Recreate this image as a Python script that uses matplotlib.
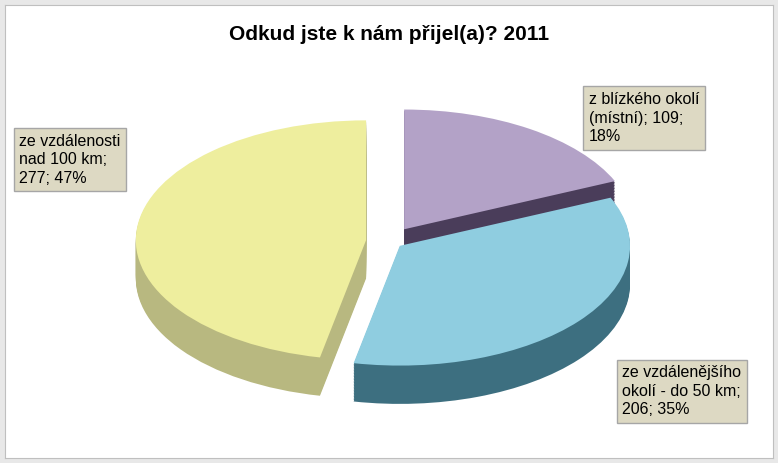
import matplotlib
matplotlib.use("Agg")
import matplotlib.pyplot as plt
import numpy as np

categories = ["z blízkého okolí\n(místní); 109;\n18%",
              "ze vzdálenějšího\nokolí - do 50 km;\n206; 35%",
              "ze vzdálenosti\nnad 100 km;\n277; 47%"]
values = [109, 206, 277]
top_colors = ["#b3a2c7", "#8fcde0", "#eeee9e"]
side_colors = ["#4a3d5a", "#3d6f80", "#b8b880"]
explode = [0.12, 0.06, 0.10]

fig = plt.figure(figsize=(7.78, 4.63), dpi=100)
fig.patch.set_facecolor("#e8e8e8")
bg = fig.add_axes([0.006, 0.01, 0.988, 0.98])
bg.set_facecolor("white")
bg.set_xticks([]); bg.set_yticks([])
for s in bg.spines.values():
    s.set_color("#bfbfbf")

ax = fig.add_axes([0.13, 0.08, 0.74, 0.72])
ax.set_axis_off()
depth = 0.32
N = 25
for k in range(N, 0, -1):
    ax.pie(values, colors=side_colors, startangle=90, counterclock=False,
           explode=explode, center=(0, -depth * k / N), radius=1,
           wedgeprops=dict(linewidth=0))
ax.pie(values, colors=top_colors, startangle=90, counterclock=False,
       explode=explode, center=(0, 0), radius=1,
       wedgeprops=dict(linewidth=0))
ax.set_xlim(-1.25, 1.25)
ax.set_ylim(-1.5, 1.2)
ax.set_aspect(0.52)

fig.text(0.5, 0.925, "Odkud jste k nám přijel(a)? 2011", ha="center", va="center",
         fontsize=15, fontweight="bold", family="Liberation Sans")

box = dict(boxstyle="square,pad=0.35", facecolor="#ddd9c3", edgecolor="#a6a6a6")
fig.text(0.757, 0.745, categories[0], ha="left", va="center", fontsize=11.5,
         family="Liberation Sans", bbox=box, linespacing=1.3)
fig.text(0.80, 0.155, categories[1], ha="left", va="center", fontsize=11.5,
         family="Liberation Sans", bbox=box, linespacing=1.3)
fig.text(0.025, 0.655, categories[2], ha="left", va="center", fontsize=11.5,
         family="Liberation Sans", bbox=box, linespacing=1.3)

fig.savefig("out.png", dpi=100)
